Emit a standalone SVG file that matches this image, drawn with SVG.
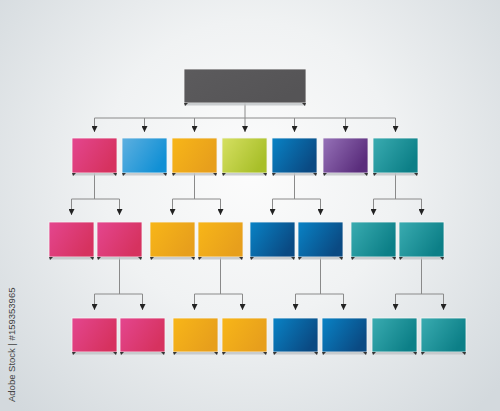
<svg xmlns="http://www.w3.org/2000/svg" xmlns:xlink="http://www.w3.org/1999/xlink" width="500" height="411" viewBox="0 0 500 411">
<defs>
<radialGradient id="bg" cx="250" cy="170" r="330" gradientUnits="userSpaceOnUse">
<stop offset="0" stop-color="#fcfcfc"/><stop offset="0.45" stop-color="#f0f2f3"/><stop offset="1" stop-color="#d3d9dd"/>
</radialGradient>
<linearGradient id="gGrey" x1="0" y1="0" x2="1" y2="0.5"><stop offset="0" stop-color="#5c5b5d"/><stop offset="1" stop-color="#555456"/></linearGradient>
<linearGradient id="gPink" x1="0" y1="0" x2="1" y2="0.5"><stop offset="0" stop-color="#e4468f"/><stop offset="1" stop-color="#d6325f"/></linearGradient>
<linearGradient id="gLBlue" x1="0" y1="0" x2="1" y2="0.5"><stop offset="0" stop-color="#5eb0e0"/><stop offset="1" stop-color="#1190d5"/></linearGradient>
<linearGradient id="gOrange" x1="0" y1="0" x2="1" y2="0.5"><stop offset="0" stop-color="#f8b618"/><stop offset="1" stop-color="#e79f1c"/></linearGradient>
<linearGradient id="gLime" x1="0" y1="0" x2="1" y2="0.5"><stop offset="0" stop-color="#d6e062"/><stop offset="1" stop-color="#a8bf29"/></linearGradient>
<linearGradient id="gBlue" x1="0" y1="0" x2="1" y2="0.5"><stop offset="0" stop-color="#0983c6"/><stop offset="1" stop-color="#0a4a83"/></linearGradient>
<linearGradient id="gPurple" x1="0" y1="0" x2="1" y2="0.5"><stop offset="0" stop-color="#9672b8"/><stop offset="1" stop-color="#5a2d7c"/></linearGradient>
<linearGradient id="gTeal" x1="0" y1="0" x2="1" y2="0.5"><stop offset="0" stop-color="#3aacb1"/><stop offset="1" stop-color="#0c7f87"/></linearGradient>
<marker id="arr" viewBox="0 0 6 6" refX="6" refY="3" markerWidth="6" markerHeight="6" markerUnits="userSpaceOnUse" orient="auto">
<path d="M0,0 L6,3 L0,6 z" fill="#222"/>
</marker>
<g id="tab45">
<rect x="1" y="0" width="43" height="2.5" fill="#bfc3c6" opacity="0.8"/>
<path d="M0,0 L4,0 L1,3 z M45,0 L41,0 L44,3 z" fill="#333"/>
</g>
<g id="tab122">
<rect x="1" y="0" width="120" height="2.5" fill="#bfc3c6" opacity="0.8"/>
<path d="M0,0 L4,0 L1,3 z M122,0 L118,0 L121,3 z" fill="#333"/>
</g>
</defs>
<style>
.box{stroke:#f4f4f4;stroke-width:0.8}
.ln{fill:none;stroke:#8a8a8a;stroke-width:1}
.ar{fill:none;stroke:#8a8a8a;stroke-width:1;marker-end:url(#arr)}
.wm{font-family:"Liberation Sans",Arial,sans-serif;font-size:9.5px;fill:#444}
</style>
<rect width="500" height="411" fill="url(#bg)"/>

<g id="connectors">
<path class="ln" d="M245,103 V118 M94.5,118 H395.5"/>
<path class="ar" d="M94.5,118 V132"/><path class="ar" d="M144.5,118 V132"/><path class="ar" d="M194.5,118 V132"/><path class="ar" d="M245,118 V132"/><path class="ar" d="M294.5,118 V132"/><path class="ar" d="M345.5,118 V132"/><path class="ar" d="M395.5,118 V132"/>
<path class="ln" d="M94.5,173 V199 M71.5,199 H119.5 M194.5,173 V199 M172.5,199 H220.5 M294.5,173 V199 M272.5,199 H320.5 M395.5,173 V199 M373.5,199 H421.5"/>
<path class="ar" d="M71.5,199 V215"/><path class="ar" d="M119.5,199 V215"/><path class="ar" d="M172.5,199 V215"/><path class="ar" d="M220.5,199 V215"/><path class="ar" d="M272.5,199 V215"/><path class="ar" d="M320.5,199 V215"/><path class="ar" d="M373.5,199 V215"/><path class="ar" d="M421.5,199 V215"/>
<path class="ln" d="M119.5,257 V294 M94.5,294 H142.5 M220.5,257 V294 M194.5,294 H242.5 M320.5,257 V294 M295.5,294 H343.5 M421.5,257 V294 M395.5,294 H443.5"/>
<path class="ar" d="M94.5,294 V310"/><path class="ar" d="M142.5,294 V310"/><path class="ar" d="M194.5,294 V310"/><path class="ar" d="M242.5,294 V310"/><path class="ar" d="M295.5,294 V310"/><path class="ar" d="M343.5,294 V310"/><path class="ar" d="M395.5,294 V310"/><path class="ar" d="M443.5,294 V310"/>
</g>

<g id="root"><rect class="box" x="184" y="69" width="122" height="34" fill="url(#gGrey)"/><use xlink:href="#tab122" x="184" y="103"/></g>

<g id="r1-1"><rect class="box" x="72" y="138" width="45" height="35" fill="url(#gPink)"/><use xlink:href="#tab45" x="72" y="173"/></g>
<g id="r1-2"><rect class="box" x="122" y="138" width="45" height="35" fill="url(#gLBlue)"/><use xlink:href="#tab45" x="122" y="173"/></g>
<g id="r1-3"><rect class="box" x="172" y="138" width="45" height="35" fill="url(#gOrange)"/><use xlink:href="#tab45" x="172" y="173"/></g>
<g id="r1-4"><rect class="box" x="222" y="138" width="45" height="35" fill="url(#gLime)"/><use xlink:href="#tab45" x="222" y="173"/></g>
<g id="r1-5"><rect class="box" x="272" y="138" width="45" height="35" fill="url(#gBlue)"/><use xlink:href="#tab45" x="272" y="173"/></g>
<g id="r1-6"><rect class="box" x="323" y="138" width="45" height="35" fill="url(#gPurple)"/><use xlink:href="#tab45" x="323" y="173"/></g>
<g id="r1-7"><rect class="box" x="373" y="138" width="45" height="35" fill="url(#gTeal)"/><use xlink:href="#tab45" x="373" y="173"/></g>

<g id="r2-1"><rect class="box" x="49" y="222" width="45" height="35" fill="url(#gPink)"/><use xlink:href="#tab45" x="49" y="257"/></g>
<g id="r2-2"><rect class="box" x="97" y="222" width="45" height="35" fill="url(#gPink)"/><use xlink:href="#tab45" x="97" y="257"/></g>
<g id="r2-3"><rect class="box" x="150" y="222" width="45" height="35" fill="url(#gOrange)"/><use xlink:href="#tab45" x="150" y="257"/></g>
<g id="r2-4"><rect class="box" x="198" y="222" width="45" height="35" fill="url(#gOrange)"/><use xlink:href="#tab45" x="198" y="257"/></g>
<g id="r2-5"><rect class="box" x="250" y="222" width="45" height="35" fill="url(#gBlue)"/><use xlink:href="#tab45" x="250" y="257"/></g>
<g id="r2-6"><rect class="box" x="298" y="222" width="45" height="35" fill="url(#gBlue)"/><use xlink:href="#tab45" x="298" y="257"/></g>
<g id="r2-7"><rect class="box" x="351" y="222" width="45" height="35" fill="url(#gTeal)"/><use xlink:href="#tab45" x="351" y="257"/></g>
<g id="r2-8"><rect class="box" x="399" y="222" width="45" height="35" fill="url(#gTeal)"/><use xlink:href="#tab45" x="399" y="257"/></g>

<g id="r3-1"><rect class="box" x="72" y="318" width="45" height="34" fill="url(#gPink)"/><use xlink:href="#tab45" x="72" y="352"/></g>
<g id="r3-2"><rect class="box" x="120" y="318" width="45" height="34" fill="url(#gPink)"/><use xlink:href="#tab45" x="120" y="352"/></g>
<g id="r3-3"><rect class="box" x="173" y="318" width="45" height="34" fill="url(#gOrange)"/><use xlink:href="#tab45" x="173" y="352"/></g>
<g id="r3-4"><rect class="box" x="222" y="318" width="45" height="34" fill="url(#gOrange)"/><use xlink:href="#tab45" x="222" y="352"/></g>
<g id="r3-5"><rect class="box" x="273" y="318" width="45" height="34" fill="url(#gBlue)"/><use xlink:href="#tab45" x="273" y="352"/></g>
<g id="r3-6"><rect class="box" x="322" y="318" width="45" height="34" fill="url(#gBlue)"/><use xlink:href="#tab45" x="322" y="352"/></g>
<g id="r3-7"><rect class="box" x="372" y="318" width="45" height="34" fill="url(#gTeal)"/><use xlink:href="#tab45" x="372" y="352"/></g>
<g id="r3-8"><rect class="box" x="421" y="318" width="45" height="34" fill="url(#gTeal)"/><use xlink:href="#tab45" x="421" y="352"/></g>

<text class="wm" transform="translate(15,402) rotate(-90)">Adobe Stock | #159353965</text>
</svg>
